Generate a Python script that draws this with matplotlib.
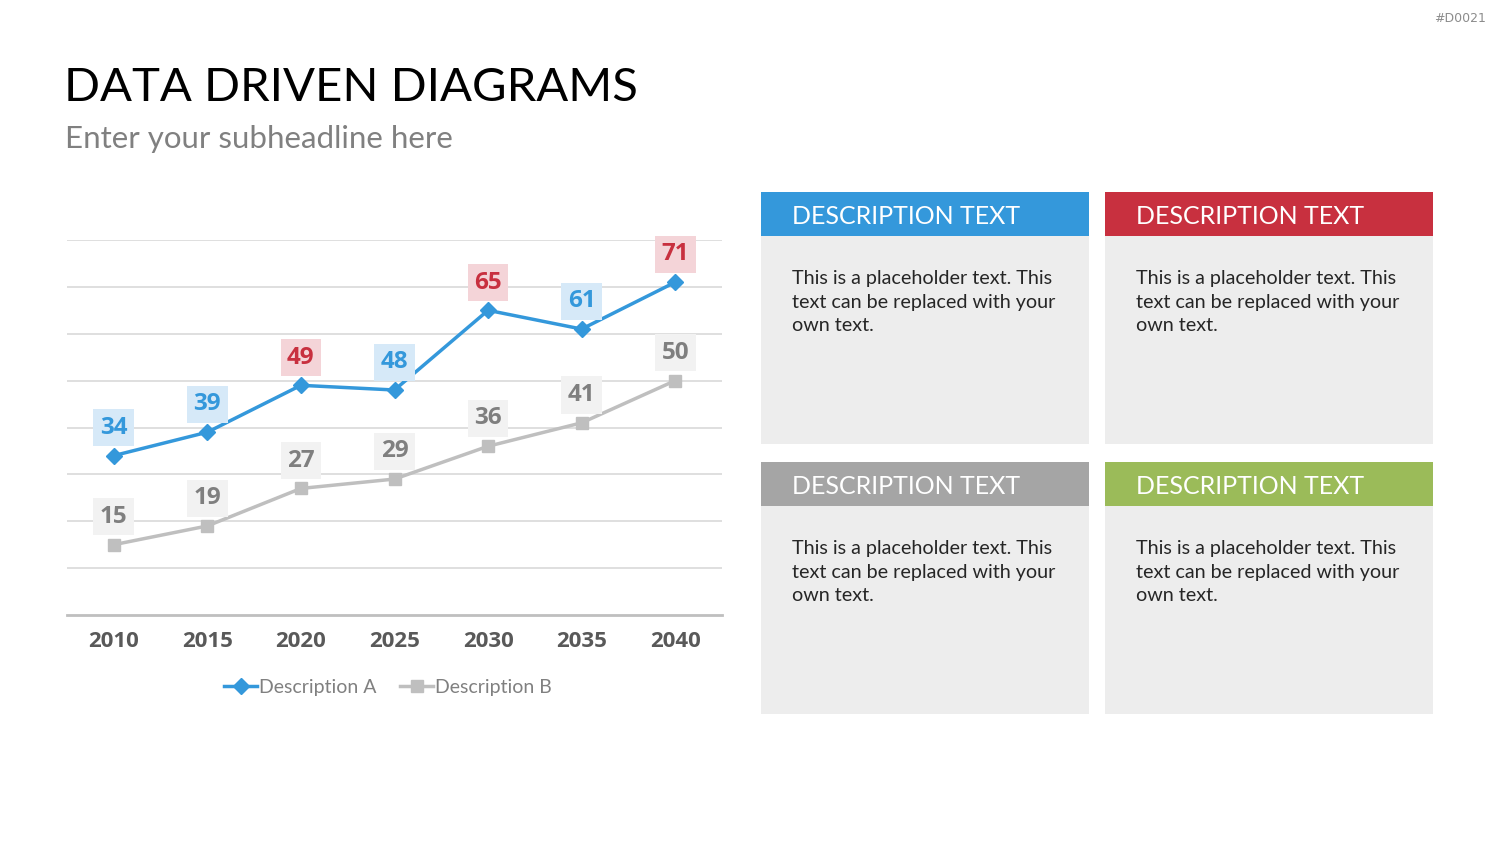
import matplotlib
matplotlib.use("Agg")
import matplotlib.pyplot as plt
from matplotlib.patches import Rectangle
from matplotlib.lines import Line2D

plt.rcParams['font.family'] = ['Lato', 'DejaVu Sans']

# data
years = ['2010', '2015', '2020', '2025', '2030', '2035', '2040']
desc_a = [34, 39, 49, 48, 65, 61, 71]
desc_b = [15, 19, 27, 29, 36, 41, 50]
highlight_a = [False, False, True, False, True, False, True]
series_names = ['Description A', 'Description B']
box_titles = ['DESCRIPTION TEXT'] * 4
box_text = 'This is a placeholder text. This\ntext can be replaced with your\nown text.'

BLUE = '#3498db'
RED = '#c8303f'
GRAY_LINE = '#bfbfbf'
GREEN = '#9bbb59'
HEAD_GRAY = '#a5a5a5'
BOLD_FONT = ['Open Sans', 'DejaVu Sans']

fig = plt.figure(figsize=(15, 8.44), dpi=100)

# background overlay in pixel coords
bg = fig.add_axes([0, 0, 1, 1])
bg.set_xlim(0, 1500)
bg.set_ylim(844, 0)
bg.axis('off')

bg.text(64, 88, 'DATA DRIVEN DIAGRAMS', fontsize=34, color='black', va='center', ha='left')
bg.text(65, 139, 'Enter your subheadline here', fontsize=22.5, color='#808080', va='center', ha='left')
bg.text(1486, 19, '#D0021', fontsize=9, color='#8c8c8c', va='center', ha='right', family='DejaVu Sans')

# description boxes
panels = [(761, 192, BLUE), (1105, 192, RED), (761, 462, HEAD_GRAY), (1105, 462, GREEN)]
for (x0, y0, col), title in zip(panels, box_titles):
    bg.add_patch(Rectangle((x0, y0), 328, 252, fc='#ededed', ec='none'))
    bg.add_patch(Rectangle((x0, y0), 328, 44, fc=col, ec='none'))
    bg.text(x0 + 31, y0 + 24, title, fontsize=18, color='white', va='center', ha='left')
    bg.text(x0 + 31, y0 + 78, box_text, fontsize=14.2, color='#262626', va='top', ha='left',
            linespacing=1.48)

# line chart
ax = fig.add_axes([67 / 1500, 1 - 615 / 844, 655 / 1500, 375 / 844])
x = range(len(years))
ax.plot(x, desc_b, color=GRAY_LINE, lw=2.5, marker='s', ms=8, zorder=3)
ax.plot(x, desc_a, color=BLUE, lw=2.5, marker='D', ms=8, zorder=4)

for i, v in enumerate(desc_a):
    if highlight_a[i]:
        tc, fc = RED, '#f4d4d8'
    else:
        tc, fc = BLUE, '#d6e9f8'
    ax.annotate(str(v), (i, v), xytext=(0, 20), textcoords='offset points', ha='center', va='center',
                fontsize=17.5, fontweight='bold', color=tc, family=BOLD_FONT,
                bbox=dict(boxstyle='square,pad=0.27', fc=fc, ec='none'), zorder=5)
for i, v in enumerate(desc_b):
    ax.annotate(str(v), (i, v), xytext=(0, 20), textcoords='offset points', ha='center', va='center',
                fontsize=17.5, fontweight='bold', color='#7f7f7f', family=BOLD_FONT,
                bbox=dict(boxstyle='square,pad=0.27', fc='#f2f2f2', ec='none'), zorder=5)

ax.set_xlim(-0.5, 6.5)
ax.set_ylim(0, 80)
ax.set_yticks(range(10, 81, 10))
ax.yaxis.grid(True, color='#d9d9d9', lw=1.2)
ax.set_axisbelow(True)
ax.tick_params(left=False, labelleft=False, bottom=False)
ax.set_xticks(list(x))
ax.set_xticklabels(years, fontsize=16, fontweight='bold', color='#595959', family=BOLD_FONT)
ax.tick_params(axis='x', pad=8)
for s in ['top', 'left', 'right']:
    ax.spines[s].set_visible(False)
ax.spines['bottom'].set_color('#bfbfbf')
ax.spines['bottom'].set_linewidth(2)
ax.patch.set_alpha(0)

handles = [Line2D([], [], color=BLUE, lw=2.5, marker='D', ms=8),
           Line2D([], [], color=GRAY_LINE, lw=2.5, marker='s', ms=8)]
leg = fig.legend(handles, series_names, loc='center', bbox_to_anchor=(388 / 1500, 1 - 687 / 844),
                 ncol=2, frameon=False, fontsize=14, handlelength=1.7, handletextpad=0.1,
                 columnspacing=1.2)
for t in leg.get_texts():
    t.set_color('#808080')

fig.savefig('out.png', dpi=100)
